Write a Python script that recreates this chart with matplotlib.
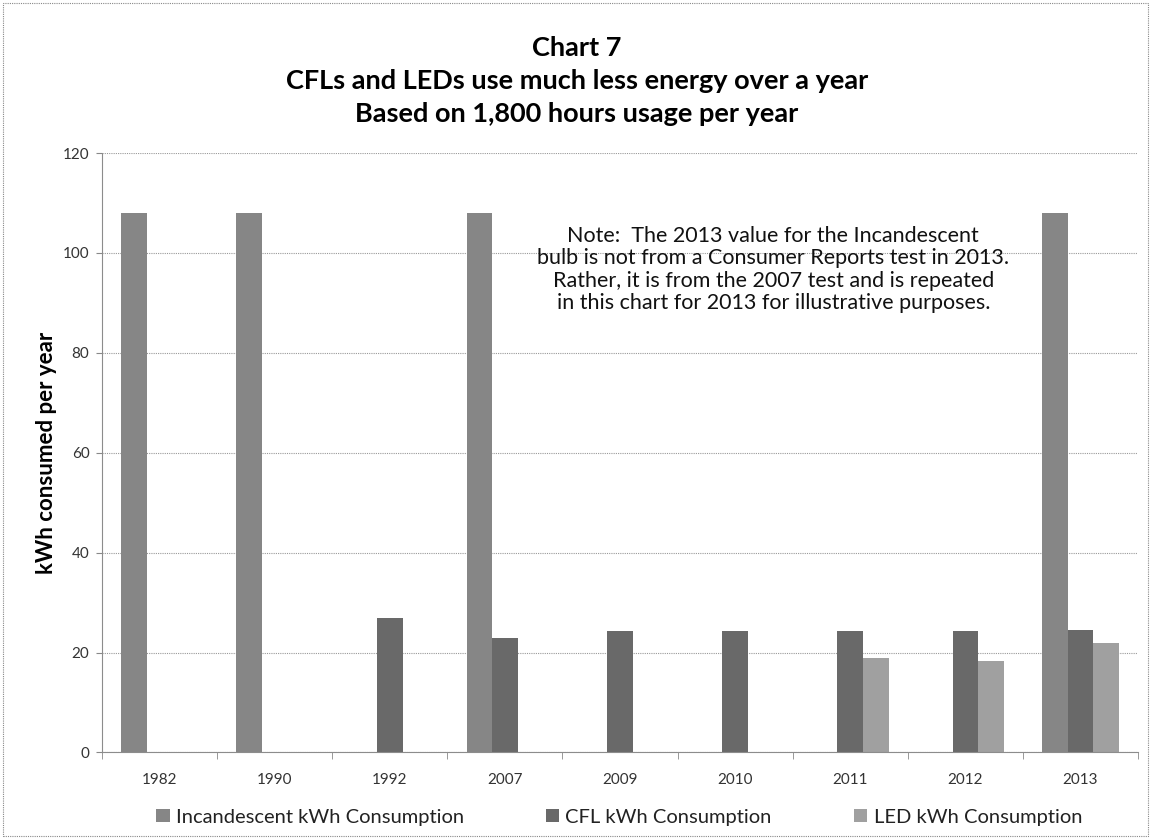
import numpy as np
import matplotlib
matplotlib.use('Agg')
from matplotlib import pyplot as plt
from matplotlib.patches import Rectangle

# Chart data.
years = ['1982', '1990', '1992', '2007', '2009', '2010', '2011', '2012', '2013']
incandescent_kwh = [108, 108, np.nan, 108, np.nan, np.nan, np.nan, np.nan, 108]
cfl_kwh = [np.nan, np.nan, 27, 23, 24.3, 24.3, 24.3, 24.3, 24.5]
led_kwh = [np.nan, np.nan, np.nan, np.nan, np.nan, np.nan, 18.9, 18.4, 22]

series_labels = ['Incandescent kWh Consumption', 'CFL kWh Consumption',
                 'LED kWh Consumption']
series_colors = ['#868686', '#696969', '#a0a0a0']

title_lines = ['Chart 7',
               'CFLs and LEDs use much less energy over a year',
               'Based on 1,800 hours usage per year']
note_text = ('Note:  The 2013 value for the Incandescent\n'
             'bulb is not from a Consumer Reports test in 2013.\n'
             'Rather, it is from the 2007 test and is repeated\n'
             'in this chart for 2013 for illustrative purposes.')

plt.rcParams['font.family'] = ['Lato', 'DejaVu Sans']

fig = plt.figure(figsize=(11.51, 8.39), dpi=100)
ax = fig.add_axes([0.0886, 0.1032, 0.9001, 0.7144])

x = np.arange(len(years))
bar_w = 0.222
for i, (vals, label, color) in enumerate(
    zip([incandescent_kwh, cfl_kwh, led_kwh], series_labels, series_colors)):
  ax.bar(x + (i - 1) * bar_w, vals, width=bar_w, color=color, label=label,
         zorder=3)

ax.set_xlim(-0.5, len(years) - 0.5)
ax.set_ylim(0, 120)
ax.set_yticks(np.arange(0, 121, 20))
ax.set_xticks(x)
ax.set_xticklabels(years)
ax.set_xticks(np.arange(-0.5, len(years), 1), minor=True)
ax.tick_params(axis='x', which='major', length=0, pad=15, labelsize=11,
               labelcolor='#333333')
ax.tick_params(axis='x', which='minor', length=5, color='#888888')
ax.tick_params(axis='y', length=4, color='#888888', labelsize=11,
               labelcolor='#333333', pad=5)

ax.grid(axis='y', linestyle=(0, (1, 1)), color='#999999', linewidth=0.8,
        zorder=0)
for side in ['top', 'right']:
  ax.spines[side].set_visible(False)
for side in ['left', 'bottom']:
  ax.spines[side].set_color('#8c8c8c')
  ax.spines[side].set_linewidth(0.8)
  ax.spines[side].set_linestyle((0, (1, 1)))
ax.spines['bottom'].set_zorder(4)

ax.set_ylabel('kWh consumed per year', fontsize=16, fontweight='bold')
ax.yaxis.set_label_coords(-0.043, 0.5)

for i, line in enumerate(title_lines):
  fig.text(0.501, 0.943 - i * 0.0395, line, ha='center', va='center',
           fontsize=19.5, fontweight='bold')

ax.text(0.648, 0.806, note_text, transform=ax.transAxes, ha='center',
        va='center', fontsize=15.5, linespacing=1.15, color='#111111')

leg = fig.legend(loc='center', bbox_to_anchor=(0.538, 0.026), ncol=3,
                 frameon=False, fontsize=14.5, handlelength=0.65,
                 handleheight=0.65, handletextpad=0.3, columnspacing=4.1)
for t in leg.get_texts():
  t.set_color('#222222')

fig.patches.append(Rectangle((0.003, 0.003), 0.994, 0.993,
                             transform=fig.transFigure, fill=False,
                             edgecolor='#888888', linewidth=0.8,
                             linestyle=(0, (1, 1))))

fig.savefig('out.png', dpi=100)
